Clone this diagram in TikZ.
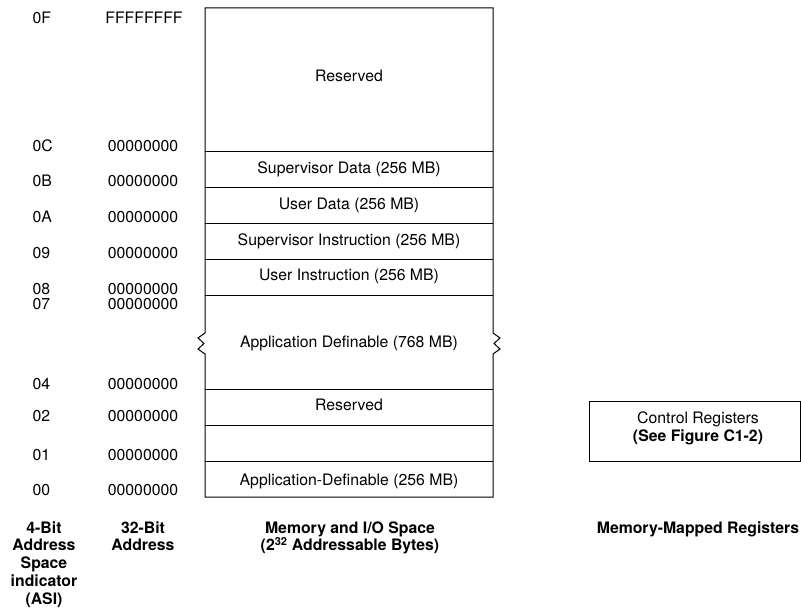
\documentclass[tikz,border=0pt]{standalone}
\usepackage{fontspec}
\setmainfont{TeX Gyre Heros}
\begin{document}
\begin{tikzpicture}[x=1pt,y=-1pt,line width=1pt,
  lbl/.style={font=\fontsize{15.8}{17.7}\selectfont, inner sep=0pt},
  asi/.style={lbl, anchor=west},
  addr/.style={lbl, anchor=center},
  band/.style={lbl, anchor=center},
  head/.style={lbl, font=\fontsize{15.8}{17.7}\selectfont\bfseries, align=center, anchor=north}]
\useasboundingbox (0,0) rectangle (801,610);
% memory box outline with break marks
\coordinate (tl) at (205,8);
\coordinate (tr) at (493,8);
\coordinate (bl) at (205,497);
\coordinate (br) at (493,497);
\draw (tl) -- (tr) -- (493,333) -- (500,338) -- (494,343.5) -- (500,349) -- (493,354) -- (br)
      -- (bl) -- (205,354) -- (198,349) -- (204,343.5) -- (198,338) -- (205,333) -- cycle;
\foreach \y/\n in {151/a,187/b,223/c,259/d,295/e,389/f,425/g,461/h}{
  \coordinate (L\n) at (205,\y);
  \coordinate (R\n) at (493,\y);
  \draw (L\n) -- (R\n);
}
% band labels
\node[band] (res1) at (349,76) {Reserved};
\node[band] (supd) at (349,169) {Supervisor Data (256 MB)};
\node[band] (usrd) at (349,205) {User Data (256 MB)};
\node[band] (supi) at (349,241) {Supervisor Instruction (256 MB)};
\node[band] (usri) at (349,276.5) {User Instruction (256 MB)};
\node[band] (app7) at (349,343) {Application Definable (768 MB)};
\node[band] (res2) at (349,405) {Reserved};
\node[band] (app2) at (349,481) {Application-Definable (256 MB)};
% ASI column
\foreach \t/\y/\n in {0F/18/f,0C/146/c,0B/181/b,0A/217/a,09/253/n9,08/289.5/n8,07/304/n7,04/384/n4,02/416.5/n2,01/455/n1,00/490/n0}{
  \node[asi] (asi\n) at (32,\y) {\t};
}
% address column
\node[addr] (adrF) at (144,18) {FFFFFFFF};
\foreach \y/\n in {146/c,181/b,217/a,253/n9,289.5/n8,304/n7,384/n4,416.5/n2,455/n1,490/n0}{
  \node[addr] (adr\n) at (143,\y) {00000000};
}
% control registers
\node[draw, line width=1pt, minimum width=211pt, minimum height=60pt, inner sep=0pt] (ctrl) at (694.5,431) {};
\node[lbl, align=center] (ctrltxt) at (698,428.5) {Control Registers\\\textbf{(See Figure C1-2)}};
% headings
\node[head] (h1) at (44,521) {4-Bit\\Address\\Space\\indicator\\(ASI)};
\node[head] (h2) at (143,521) {32-Bit\\Address};
\node[head] (h3) at (350,521) {Memory and I/O Space\\(2\textsuperscript{32} Addressable Bytes)};
\node[head] (h4) at (698,521) {Memory-Mapped Registers};
\end{tikzpicture}
\end{document}
